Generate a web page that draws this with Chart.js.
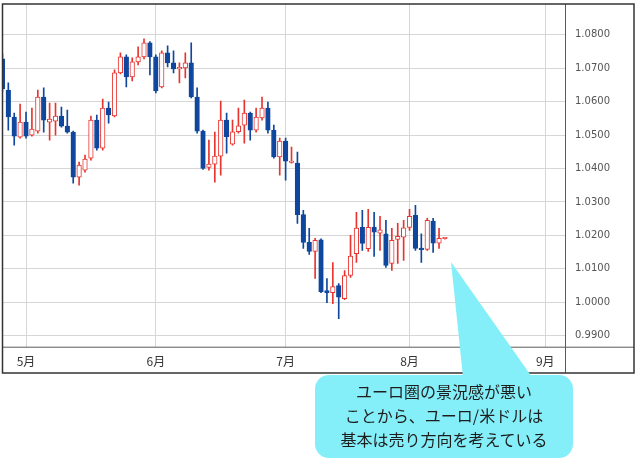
<!DOCTYPE html>
<html><head><meta charset="utf-8">
<script src="https://cdn.jsdelivr.net/npm/chart.js@4.4.1/dist/chart.umd.min.js"></script>
<style>
html,body{margin:0;padding:0;background:#fff;}
#wrap{position:relative;width:638px;height:464px;overflow:hidden;background:#fff;}
#c{position:absolute;left:0;top:0;}
#callout{position:absolute;left:0;top:0;pointer-events:none;}
#note{position:absolute;left:315px;top:379px;width:258px;text-align:center;font-family:'Noto Sans CJK JP',sans-serif;font-size:16px;line-height:24px;color:#1e1e1e;}
</style></head><body>
<div id="wrap">
<canvas id="c" width="638" height="464"></canvas>
<svg id="callout" width="638" height="464">
  <path d="M451 262 L463 377 L532 377 Z" fill="#84eff9"/>
  <rect x="315" y="375" width="258" height="83" rx="14" ry="14" fill="#84eff9"/>
</svg>
<div id="note">ユーロ圏の景況感が悪い<br>ことから、ユーロ/米ドルは<br>基本は売り方向を考えている</div>
</div>
<script>
const dates = [
 '2022-04-26','2022-04-27','2022-04-28','2022-04-29',
 '2022-05-02','2022-05-03','2022-05-04','2022-05-05','2022-05-06',
 '2022-05-09','2022-05-10','2022-05-11','2022-05-12','2022-05-13',
 '2022-05-16','2022-05-17','2022-05-18','2022-05-19','2022-05-20',
 '2022-05-23','2022-05-24','2022-05-25','2022-05-26','2022-05-27',
 '2022-05-30','2022-05-31',
 '2022-06-01','2022-06-02','2022-06-03',
 '2022-06-06','2022-06-07','2022-06-08','2022-06-09','2022-06-10',
 '2022-06-13','2022-06-14','2022-06-15','2022-06-16','2022-06-17',
 '2022-06-20','2022-06-21','2022-06-22','2022-06-23','2022-06-24',
 '2022-06-27','2022-06-28','2022-06-29','2022-06-30',
 '2022-07-01',
 '2022-07-04','2022-07-05','2022-07-06','2022-07-07','2022-07-08',
 '2022-07-11','2022-07-12','2022-07-13','2022-07-14','2022-07-15',
 '2022-07-18','2022-07-19','2022-07-20','2022-07-21','2022-07-22',
 '2022-07-25','2022-07-26','2022-07-27','2022-07-28','2022-07-29',
 '2022-08-01','2022-08-02','2022-08-03','2022-08-04','2022-08-05',
 '2022-08-08','2022-08-09'
];
const openP = [
 1.0728,1.0635,1.0554,1.0494,1.0539,1.0500,1.0512,1.0614,1.0539,1.0542,
 1.0557,1.0527,1.0509,1.0374,1.0395,1.0431,1.0545,1.0461,1.0581,1.0557,
 1.0686,1.0734,1.0674,1.0719,1.0734,1.0776,1.0734,1.0644,1.0746,1.0716,
 1.0698,1.0701,1.0716,1.0614,1.0512,1.0403,1.0413,1.0437,1.0545,1.0473,
 1.0510,1.0530,1.0566,1.0515,1.0551,1.0581,1.0515,1.0435,1.0482,1.0418,
 1.0416,1.0262,1.0179,1.0152,1.0187,1.0035,1.0029,1.0050,1.0011,1.0080,
 1.0145,1.0224,1.0160,1.0225,1.0207,1.0205,1.0116,1.0188,1.0195,1.0224,
 1.0260,1.0162,1.0158,1.0243,1.0177,1.0190
];
const highP = [
 1.0742,1.0656,1.0566,1.0593,1.0569,1.0581,1.0635,1.0641,1.0596,1.0596,
 1.0584,1.0575,1.0512,1.0419,1.0440,1.0557,1.0560,1.0608,1.0599,1.0695,
 1.0746,1.0740,1.0731,1.0764,1.0788,1.0780,1.0740,1.0752,1.0767,1.0752,
 1.0716,1.0746,1.0776,1.0641,1.0515,1.0485,1.0509,1.0602,1.0566,1.0545,
 1.0581,1.0605,1.0569,1.0581,1.0614,1.0599,1.0530,1.0491,1.0491,1.0464,
 1.0449,1.0275,1.0221,1.0191,1.0190,1.0071,1.0119,1.0056,1.0095,1.0200,
 1.0269,1.0275,1.0278,1.0269,1.0257,1.0245,1.0221,1.0236,1.0245,1.0278,
 1.0290,1.0205,1.0251,1.0251,1.0221,1.0193
];
const lowP = [
 1.0630,1.0515,1.0470,1.0491,1.0491,1.0497,1.0506,1.0509,1.0485,1.0500,
 1.0524,1.0506,1.0356,1.0350,1.0389,1.0425,1.0455,1.0455,1.0536,1.0554,
 1.0683,1.0644,1.0662,1.0710,1.0728,1.0680,1.0626,1.0641,1.0704,1.0686,
 1.0656,1.0671,1.0611,1.0506,1.0397,1.0395,1.0359,1.0380,1.0446,1.0470,
 1.0506,1.0476,1.0485,1.0509,1.0545,1.0506,1.0431,1.0380,1.0365,1.0416,
 1.0236,1.0161,1.0143,1.0071,1.0029,0.9999,0.9996,0.9951,1.0008,1.0074,
 1.0119,1.0155,1.0152,1.0137,1.0155,1.0104,1.0095,1.0116,1.0125,1.0215,
 1.0155,1.0119,1.0155,1.0149,1.0161,1.0189
];
const closeP = [
 1.0638,1.0554,1.0497,1.0539,1.0497,1.0518,1.0614,1.0545,1.0548,1.0557,
 1.0527,1.0509,1.0374,1.0410,1.0428,1.0545,1.0461,1.0581,1.0560,1.0686,
 1.0734,1.0674,1.0719,1.0734,1.0776,1.0734,1.0632,1.0746,1.0716,1.0698,
 1.0701,1.0716,1.0614,1.0512,1.0400,1.0413,1.0437,1.0545,1.0495,1.0510,
 1.0528,1.0566,1.0515,1.0554,1.0581,1.0515,1.0435,1.0482,1.0422,1.0421,
 1.0262,1.0179,1.0152,1.0185,1.0032,1.0029,1.0047,1.0015,1.0080,1.0138,
 1.0222,1.0176,1.0224,1.0210,1.0217,1.0110,1.0185,1.0197,1.0223,1.0257,
 1.0161,1.0157,1.0245,1.0177,1.0191,1.0192
];
const monthLabels = ['5月','6月','7月','8月','9月'];
const monthStarts = ['2022-05-02','2022-06-01','2022-07-01','2022-08-01','2022-09-01'];
const priceTicks = [0.99,1.00,1.01,1.02,1.03,1.04,1.05,1.06,1.07,1.08];

// trading-day index (weekdays) counted from the first date
function tradeIndex(iso){
  const start = new Date(dates[0]+'T00:00:00Z');
  const end = new Date(iso+'T00:00:00Z');
  let n = 0;
  for (let d = new Date(start); d < end; d.setUTCDate(d.getUTCDate()+1)) {
    const wd = d.getUTCDay();
    if (wd !== 0 && wd !== 6) n++;
  }
  return n;
}
const monthIdx = monthStarts.map(tradeIndex);
const idx = dates.map((d,i)=>tradeIndex(d));
const isUp = dates.map((d,i)=>closeP[i] >= openP[i]);
const UP = '#e8352f', DOWN = '#0f479e';

const framePlugin = {
  id:'frame',
  afterDraw(chart){
    const {ctx, chartArea:a} = chart;
    ctx.save();
    ctx.strokeStyle = '#5a5a5a';
    ctx.lineWidth = 1;
    ctx.beginPath();
    ctx.moveTo(a.right+0.5, 4); ctx.lineTo(a.right+0.5, 373);
    ctx.moveTo(2, a.bottom+0.5); ctx.lineTo(634, a.bottom+0.5);
    ctx.stroke();
    ctx.strokeStyle = '#333';
    ctx.lineWidth = 1.5;
    ctx.strokeRect(2.5, 4, 631.5, 369);
    ctx.restore();
  }
};

new Chart(document.getElementById('c'), {
  type:'bar',
  data:{
    datasets:[
      {
        label:'wick',
        data: dates.map((d,i)=>({x: idx[i], y:[lowP[i], highP[i]]})),
        backgroundColor: isUp.map(u=>u?UP:DOWN),
        borderWidth:0,
        barThickness:1,
        grouped:false,
        order:2,
        clip:0
      },
      {
        label:'body',
        data: dates.map((d,i)=>({x: idx[i], y:[openP[i], closeP[i]]})),
        backgroundColor: isUp.map(u=>u?'#ffffff':DOWN),
        borderColor: isUp.map(u=>u?UP:DOWN),
        borderWidth:1,
        borderSkipped:false,
        barThickness:4.6,
        minBarLength:1.5,
        grouped:false,
        order:1,
        clip:0
      }
    ]
  },
  options:{
    responsive:false,
    animation:false,
    events:[],
    layout:{padding:{left:3, top:4, right:4, bottom:91}},
    plugins:{legend:{display:false}, tooltip:{enabled:false}},
    scales:{
      x:{
        type:'linear', position:'bottom', min:0.1, max:95.35, offset:false,
        afterFit(s){ s.height = 26.3; s.paddingLeft = 0; s.paddingRight = 0; },
        afterBuildTicks(s){ s.ticks = monthIdx.map(v=>({value:v})); },
        grid:{color:'#d6d6d6', lineWidth:1, drawTicks:false, offset:false},
        border:{display:false},
        ticks:{
          autoSkip:false, maxRotation:0, padding:8, color:'#333',
          font:{family:"'Noto Sans CJK JP', sans-serif", size:12},
          callback:(v)=>{ const k = monthIdx.indexOf(v); return k>=0 ? monthLabels[k] : ''; }
        }
      },
      y:{
        type:'linear', position:'right', min:0.98671, max:1.08921,
        afterFit(s){ s.width = 69; s.paddingTop = 0; s.paddingBottom = 0; },
        afterBuildTicks(s){ s.ticks = priceTicks.map(v=>({value:v})); },
        grid:{color:'#d6d6d6', lineWidth:1, drawTicks:false},
        border:{display:false},
        ticks:{
          padding:10, color:'#555',
          font:{family:"'DejaVu Sans', sans-serif", size:10},
          callback:(v)=>Number(v).toFixed(4)
        }
      }
    }
  },
  plugins:[framePlugin]
});
</script>
</body></html>
